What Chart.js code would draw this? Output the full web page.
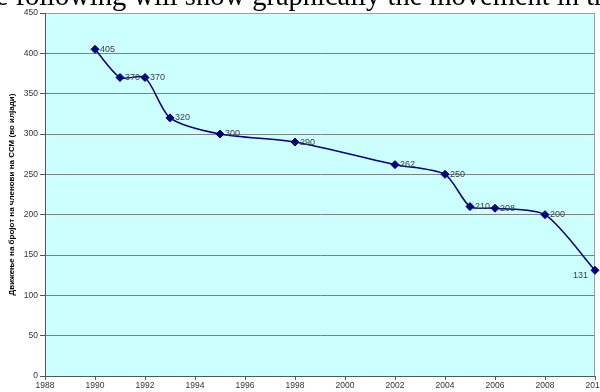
<!DOCTYPE html>
<html lang="mk">
<head>
    <meta charset="UTF-8">
    <meta name="viewport" content="width=device-width, initial-scale=1.0">
    <title>Движење на бројот на членови на ССМ</title>
    <script src="https://cdn.jsdelivr.net/npm/chart.js"></script> <!-- Chart.js -->
    <style>
        html, body {
            margin: 0;
            padding: 0;
            background-color: #fff;
            overflow: hidden;
        }
        .page {
            position: relative;
            width: 600px;
            height: 392px;
            overflow: hidden;
        }
        .doc-text {
            position: absolute;
            left: -36px;
            top: -18px;
            font-family: "Liberation Serif", "Times New Roman", serif;
            font-size: 28.5px;
            line-height: 28.5px;
            white-space: nowrap;
            color: #000;
            z-index: 2;
        }
        #chart-container {
            position: absolute;
            left: 0;
            top: 0;
            width: 600px;
            height: 392px;
        }
    </style>
</head>
<body>
    <div class="page">
        <div class="doc-text">The following will show graphically the movement in the number</div>
        <div id="chart-container">
            <canvas id="membersChart"></canvas>
        </div>
    </div>

    <script>
        // Податоци од графикот
        const years = [1990, 1991, 1992, 1993, 1995, 1998, 2002, 2004, 2005, 2006, 2008, 2010];
        const members = [405, 370, 370, 320, 300, 290, 262, 250, 210, 208, 200, 131];
        const yTitle = 'Движење на бројот на членови на ССМ (во илјади)';

        // Позадина и рамка на површината за цртање
        const plotArea = {
            id: 'plotArea',
            beforeDraw(chart) {
                const { ctx, chartArea: a } = chart;
                ctx.save();
                ctx.fillStyle = '#CCFFFF';
                ctx.fillRect(a.left, a.top, a.right - a.left, a.bottom - a.top);
                ctx.strokeStyle = '#a0a0a0';
                ctx.lineWidth = 1;
                ctx.strokeRect(a.left + 0.5, a.top + 0.5, a.right - a.left - 1, a.bottom - a.top);
                ctx.restore();
            }
        };

        // Ознаки со вредностите покрај точките
        const valueLabels = {
            id: 'valueLabels',
            afterDatasetsDraw(chart) {
                const { ctx } = chart;
                const meta = chart.getDatasetMeta(0);
                ctx.save();
                ctx.font = '9px Arial, "Liberation Sans", sans-serif';
                ctx.fillStyle = '#404040';
                ctx.textBaseline = 'middle';
                meta.data.forEach((pt, i) => {
                    const v = members[i];
                    if (i === members.length - 1) {
                        ctx.textAlign = 'right';
                        ctx.fillText(v, pt.x - 7, pt.y + 5);
                    } else {
                        ctx.textAlign = 'left';
                        ctx.fillText(v, pt.x + 5, pt.y);
                    }
                });
                ctx.restore();
            }
        };

        const tickFont = { family: 'Arial, "Liberation Sans", sans-serif', size: 8.5 };

        const ctx = document.getElementById('membersChart').getContext('2d');
        const membersChart = new Chart(ctx, {
            type: 'line',
            data: {
                datasets: [
                    {
                        label: 'Членови',
                        data: years.map((y, i) => ({ x: y, y: members[i] })),
                        borderColor: '#000080',
                        backgroundColor: '#000080',
                        borderWidth: 1.5,
                        tension: 0.25,
                        pointStyle: 'rectRot',
                        pointRadius: 4,
                        pointBorderWidth: 1,
                        fill: false,
                        clip: false
                    }
                ]
            },
            options: {
                responsive: true,
                maintainAspectRatio: false,
                animation: false,
                layout: {
                    padding: { top: 13, right: 2, bottom: 0, left: 0 }
                },
                plugins: {
                    legend: { display: false },
                    tooltip: { enabled: false }
                },
                scales: {
                    x: {
                        type: 'linear',
                        min: 1988,
                        max: 2010,
                        ticks: {
                            stepSize: 2,
                            color: '#333',
                            font: tickFont,
                            padding: 1,
                            maxRotation: 0,
                            callback: v => String(v)
                        },
                        grid: {
                            drawOnChartArea: false,
                            drawTicks: true,
                            tickLength: 4,
                            tickColor: '#555'
                        },
                        border: { color: '#555' },
                        afterFit(scale) {
                            scale.height = 16;
                            scale.paddingLeft = 0;
                            scale.paddingRight = 0;
                        }
                    },
                    y: {
                        min: 0,
                        max: 450,
                        ticks: {
                            stepSize: 50,
                            color: '#333',
                            font: tickFont,
                            padding: 2
                        },
                        grid: {
                            color: c => (c.tick && c.tick.value === 450) ? '#a0a0a0' : '#808080',
                            tickColor: '#555',
                            tickLength: 5
                        },
                        border: { color: '#555' },
                        title: {
                            display: true,
                            text: yTitle,
                            color: '#000',
                            font: { family: 'Arial, "Liberation Sans", sans-serif', size: 8, weight: 'bold' },
                            padding: { top: 7, bottom: 0 }
                        },
                        afterFit(scale) {
                            scale.width = 45;
                            scale.paddingTop = 0;
                            scale.paddingBottom = 0;
                        }
                    }
                }
            },
            plugins: [plotArea, valueLabels]
        });
    </script>
</body>
</html>
